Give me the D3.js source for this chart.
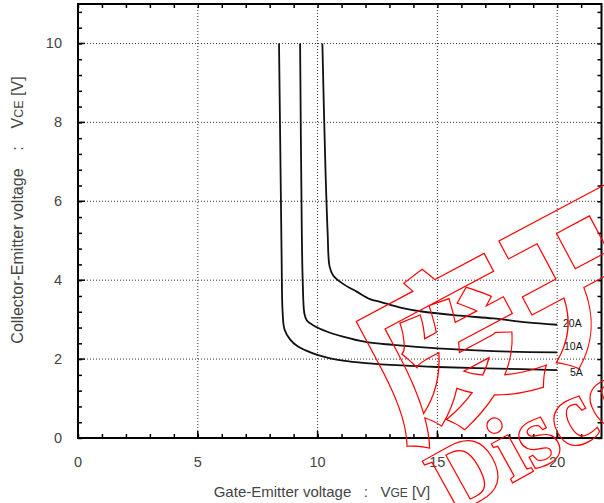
<!DOCTYPE html>
<html>
<head>
<meta charset="utf-8">
<script src="https://cdn.jsdelivr.net/npm/d3@7"></script>
<style>
  html, body { margin: 0; padding: 0; background: #fff; }
  svg { display: block; }
</style>
</head>
<body>
<svg id="chart" width="604" height="503"></svg>
<script>
// Collector current per curve
const categories = ["5A", "10A", "20A"];

// VGE (x) and VCE (y) samples for each curve
const vge5A  = [8.39, 8.46, 8.50, 8.54, 8.62, 8.85, 9.15, 9.50, 10.02, 10.52, 11.06, 12.0, 13.5, 15.0, 17.5, 20.0];
const vce5A  = [10.0, 6.5,  4.5,  3.2,  2.75, 2.50, 2.33, 2.22, 2.10,  2.02,  1.96,  1.90, 1.84, 1.80, 1.76, 1.72];
const vge10A = [9.27, 9.34, 9.38, 9.45, 9.55, 9.81, 10.38, 11.06, 12.05, 13.15, 15.0, 17.33, 20.0];
const vce10A = [10.0, 5.3,  3.96, 3.15, 2.98, 2.86, 2.70,  2.57,  2.43,  2.36,  2.27, 2.20,  2.17];
const vge20A = [10.20, 10.32, 10.42, 10.50, 10.65, 11.08, 11.63, 12.19, 12.61, 13.5, 14.42, 15.95, 17.33, 18.73, 20.0];
const vce20A = [10.0,  7.0,   5.2,  4.35,  4.12,  3.90,  3.71,  3.52,  3.45,  3.30, 3.20,  3.10,  3.03,  2.93,  2.87];

// Axis ticks
const xTicks = [0, 5, 10, 15, 20];
const yTicks = [0, 2, 4, 6, 8, 10];

const series = [
  { name: categories[0], x: vge5A,  y: vce5A },
  { name: categories[1], x: vge10A, y: vce10A },
  { name: categories[2], x: vge20A, y: vce20A }
];

const svg = d3.select("#chart");
const x = d3.scaleLinear().domain([0, 21.85]).range([78, 601.5]);
const y = d3.scaleLinear().domain([0, 11]).range([438, 4]);
const x0 = x.range()[0], x1 = x.range()[1];
const y0 = y.range()[0], y1 = y.range()[1];

// Dotted grid at the major ticks
const grid = svg.append("g").attr("stroke", "#333").attr("stroke-width", 1)
  .attr("stroke-dasharray", "1,2");
grid.selectAll("line.gx").data(xTicks.filter(d => d > 0)).join("line")
  .attr("x1", d => x(d)).attr("x2", d => x(d)).attr("y1", y1).attr("y2", y0);
grid.selectAll("line.gy").data(yTicks.filter(d => d > 0)).join("line")
  .attr("x1", x0).attr("x2", x1).attr("y1", d => y(d)).attr("y2", d => y(d));

// Curves
const line = d3.line().x(d => x(d[0])).y(d => y(d[1])).curve(d3.curveCatmullRom.alpha(0.5));
svg.append("g").selectAll("path").data(series).join("path")
  .attr("d", s => line(s.x.map((v, i) => [v, s.y[i]])))
  .attr("fill", "none").attr("stroke", "#111").attr("stroke-width", 1.8);

// Curve labels at the right end
const labelPos = { "5A": [570, 376], "10A": [564, 350], "20A": [563, 327] };
svg.append("g").selectAll("text").data(series).join("text")
  .attr("x", s => labelPos[s.name][0]).attr("y", s => labelPos[s.name][1])
  .attr("font-family", "Liberation Sans, Arial, sans-serif").attr("font-size", 10.5)
  .attr("fill", "#111").text(s => s.name);

// Frame axes with inward ticks
const tickFont = "Liberation Sans, Arial, sans-serif";
const xAxisB = d3.axisBottom(x).tickValues(d3.range(0, 22, 1)).tickSize(-4).tickFormat("");
const xAxisT = d3.axisTop(x).tickValues(d3.range(0, 22, 1)).tickSize(-4).tickFormat("");
const yAxisL = d3.axisLeft(y).tickValues(d3.range(0, 11.01, 0.4)).tickSize(-4).tickFormat("");
const yAxisR = d3.axisRight(y).tickValues(d3.range(0, 11.01, 0.4)).tickSize(-4).tickFormat("");

function styleAxis(g) {
  g.select(".domain").remove();
  g.selectAll(".tick line").attr("stroke", "#000").attr("stroke-width", 1.5);
}
svg.append("g").attr("transform", `translate(0,${y0})`).call(xAxisB).call(styleAxis);
svg.append("g").attr("transform", `translate(0,${y1})`).call(xAxisT).call(styleAxis);
svg.append("g").attr("transform", `translate(${x0},0)`).call(yAxisL).call(styleAxis);
svg.append("g").attr("transform", `translate(${x1},0)`).call(yAxisR).call(styleAxis);

// Longer marks at the labelled ticks
svg.append("g").selectAll("line").data(xTicks).join("line")
  .attr("x1", d => x(d)).attr("x2", d => x(d)).attr("y1", y0).attr("y2", y0 - 7)
  .attr("stroke", "#000").attr("stroke-width", 1.5);
svg.append("g").selectAll("line").data(yTicks).join("line")
  .attr("x1", x0).attr("x2", x0 + 7).attr("y1", d => y(d)).attr("y2", d => y(d))
  .attr("stroke", "#000").attr("stroke-width", 1.5);

// Border
svg.append("rect").attr("x", x0).attr("y", y1).attr("width", x1 - x0).attr("height", y0 - y1)
  .attr("fill", "none").attr("stroke", "#000").attr("stroke-width", 2);

// Tick labels
svg.append("g").selectAll("text").data(xTicks).join("text")
  .attr("x", d => x(d)).attr("y", 467).attr("text-anchor", "middle")
  .attr("font-family", tickFont).attr("font-size", 14.5).attr("fill", "#444")
  .text(d => d);
svg.append("g").selectAll("text").data(yTicks).join("text")
  .attr("x", 62).attr("y", d => y(d) + 5).attr("text-anchor", "end")
  .attr("font-family", tickFont).attr("font-size", 14.5).attr("fill", "#444")
  .text(d => d);

// Axis titles with subscript-sized letters
const xt = svg.append("text").attr("x", 322).attr("y", 497).attr("text-anchor", "middle")
  .attr("font-family", tickFont).attr("font-size", 15).attr("fill", "#444")
  .attr("xml:space", "preserve");
xt.append("tspan").text("Gate-Emitter voltage   :   V");
xt.append("tspan").attr("font-size", 12).text("GE");
xt.append("tspan").text(" [V]");

const yt = svg.append("text").attr("transform", "translate(23,210) rotate(-90)")
  .attr("text-anchor", "middle")
  .attr("font-family", tickFont).attr("font-size", 16).attr("fill", "#444")
  .attr("xml:space", "preserve");
yt.append("tspan").text("Collector-Emitter voltage    :    V");
yt.append("tspan").attr("font-size", 12.5).text("CE");
yt.append("tspan").text(" [V]");

// Outlined red site mark across the lower right: a wide stroke whose inner half
// is hidden by a mask cut from the glyph fill, leaving a clean outer outline
const markSpecs = [
  { text: "废开", tf: "translate(516,300) rotate(-28)", family: "Noto Sans CJK SC, sans-serif",
    weight: "bold", size: 168, anchor: "middle" },
  { text: "Disco", tf: "translate(436,488) rotate(-29)", family: "Liberation Serif, serif",
    weight: "bold", size: 94, anchor: "start" }
];
const defs = svg.append("defs");
const mask = defs.append("mask").attr("id", "markMask")
  .attr("maskUnits", "userSpaceOnUse").attr("x", 0).attr("y", 0).attr("width", 604).attr("height", 503);
mask.append("rect").attr("width", 604).attr("height", 503).attr("fill", "#fff");
function markText(g, s) {
  return g.append("text").attr("transform", s.tf)
    .attr("text-anchor", s.anchor).attr("dominant-baseline", "central")
    .attr("font-family", s.family).attr("font-weight", s.weight)
    .attr("font-size", s.size).text(s.text);
}
markSpecs.forEach(s => markText(mask, s).attr("fill", "#000"));
const mark = svg.append("g").attr("mask", "url(#markMask)")
  .attr("fill", "none").attr("stroke", "#f00").attr("stroke-width", 2.4);
markSpecs.forEach(s => markText(mark, s));
</script>
</body>
</html>
